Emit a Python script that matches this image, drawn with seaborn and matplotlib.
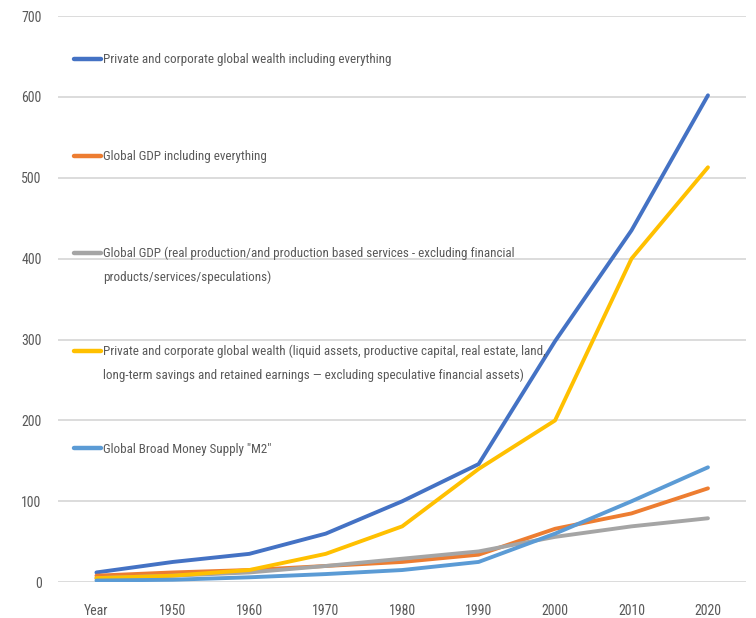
import numpy as np
import pandas as pd
import matplotlib
matplotlib.use('Agg')
import matplotlib.pyplot as plt
from matplotlib.legend_handler import HandlerLine2D
import seaborn as sns

# categories on the x axis
years = ['Year', '1950', '1960', '1970', '1980', '1990', '2000', '2010', '2020']

# series values
wealth_all = [12, 25, 35, 60, 100, 146, 298, 435, 602]
gdp_all = [8, 12, 15, 20, 25, 34, 66, 85, 116]
gdp_real = [5, 8, 12, 20, 29, 38, 56, 69, 79]
wealth_real = [5, 8, 15, 35, 69, 140, 200, 400, 513]
m2 = [2, 3, 6, 10, 15, 25, 60, 100, 142]

labels = [
    'Private and corporate global wealth including everything',
    'Global GDP including everything',
    'Global GDP (real production/and production based services - excluding financial\nproducts/services/speculations)',
    'Private and corporate global wealth (liquid assets, productive capital, real estate, land,\nlong-term savings and retained earnings \u2014 excluding speculative financial assets)',
    'Global Broad Money Supply "M2"',
]
colors = ['#4472C4', '#ED7D31', '#A5A5A5', '#FFC000', '#5B9BD5']

rows = []
for lab, vals in zip(labels, [wealth_all, gdp_all, gdp_real, wealth_real, m2]):
    for y, v in zip(years, vals):
        rows.append({'year': y, 'value': v, 'series': lab})
df = pd.DataFrame(rows)


class FirstLineHandler(HandlerLine2D):
    # excel puts the legend line next to the first text line
    def create_artists(self, legend, orig_handle, xdescent, ydescent,
                       width, height, fontsize, trans):
        arts = super().create_artists(legend, orig_handle, xdescent, ydescent,
                                      width, height, fontsize, trans)
        for a in arts:
            a.set_ydata(np.asarray(a.get_ydata()) + 9.3)
        return arts


sns.set_style('white')
plt.rcParams['font.family'] = ['Roboto Condensed', 'Archivo Narrow', 'DejaVu Sans']

fig = plt.figure(figsize=(7.56, 6.18), dpi=100)
ax = fig.add_axes([0.077, 0.058, 0.91, 0.916])

sns.lineplot(data=df, x='year', y='value', hue='series', hue_order=labels,
             palette=colors, linewidth=2.8, sort=False, ax=ax)

ax.set_ylim(0, 700)
ax.set_xlim(-0.5, 8.5)
ax.set_yticks(range(0, 701, 100))
ax.yaxis.grid(True, color='#d9d9d9', linewidth=1.3)
ax.set_axisbelow(True)
for s in ax.spines.values():
    s.set_visible(False)
ax.set_xlabel('')
ax.set_ylabel('')
ax.tick_params(axis='y', length=0, labelsize=10, colors='#595959', pad=12)
ax.tick_params(axis='x', length=0, labelsize=10, colors='#595959', pad=16)

handles, _ = ax.get_legend_handles_labels()
leg_labels = [l if '\n' in l else l + '\n ' for l in labels]
leg = ax.legend(handles, leg_labels, loc='upper left', bbox_to_anchor=(0.023, 0.934),
                frameon=False, fontsize=9.4, labelspacing=4.65, handlelength=2.07,
                handletextpad=0.12, borderpad=0, borderaxespad=0,
                handler_map={matplotlib.lines.Line2D: FirstLineHandler()})
for t in leg.get_texts():
    t.set_color('#595959')
    t.set_linespacing(2.0)
for h in leg.get_lines():
    h.set_linewidth(3.2)

plt.savefig('out.png', dpi=100)
